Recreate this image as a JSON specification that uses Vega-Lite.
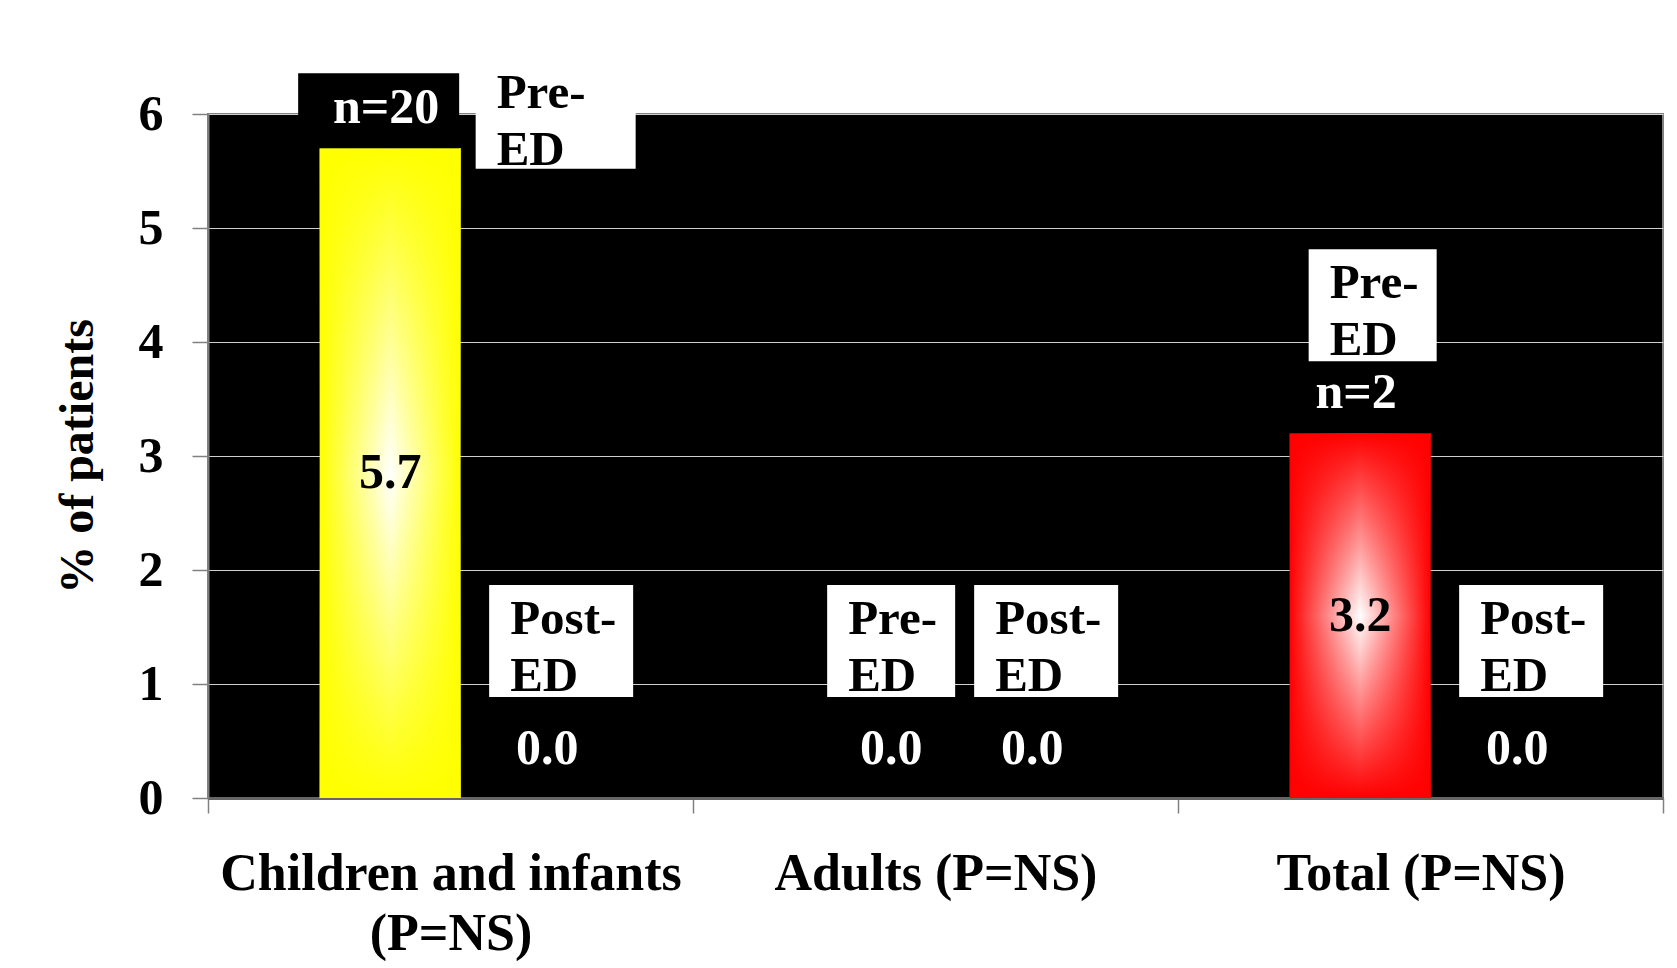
{
  "$schema": "https://vega.github.io/schema/vega-lite/v6.json",
  "width": 1455,
  "height": 684,
  "autosize": {"type": "none"},
  "padding": {"left": 208, "top": 114, "right": 14, "bottom": 170},
  "background": "white",
  "config": {
    "font": "Liberation Serif",
    "view": {"fill": "black", "stroke": "#808080", "strokeWidth": 2}
  },
  "datasets": {
    "bars": [
      {"group": "Children and infants (P=NS)", "series": "Pre-ED", "value": 5.7, "sample": "n=20"},
      {"group": "Children and infants (P=NS)", "series": "Post-ED", "value": 0.0},
      {"group": "Adults (P=NS)", "series": "Pre-ED", "value": 0.0},
      {"group": "Adults (P=NS)", "series": "Post-ED", "value": 0.0},
      {"group": "Total (P=NS)", "series": "Pre-ED", "value": 3.2, "sample": "n=2"},
      {"group": "Total (P=NS)", "series": "Post-ED", "value": 0.0}
    ],
    "seriesNames": [
      {"series": "Pre-ED", "lines": ["Pre-", "ED"]},
      {"series": "Post-ED", "lines": ["Post-", "ED"]}
    ]
  },
  "data": {"name": "bars"},
  "encoding": {
    "x": {
      "field": "group",
      "type": "nominal",
      "sort": ["Children and infants (P=NS)", "Adults (P=NS)", "Total (P=NS)"],
      "scale": {"paddingInner": 0, "paddingOuter": 0},
      "axis": {
        "title": null,
        "labelAngle": 0,
        "labelFont": "Liberation Serif",
        "labelFontSize": 52,
        "labelFontWeight": "bold",
        "labelColor": "black",
        "labelPadding": 35,
        "labelBaseline": "top",
        "labelLineHeight": 60,
        "labelLimit": 0,
        "labelOverlap": false,
        "labelExpr": "datum.label == 'Children and infants (P=NS)' ? ['Children and infants', '(P=NS)'] : datum.label",
        "tickBand": "extent",
        "tickSize": 15,
        "tickColor": "#808080",
        "tickWidth": 1.5,
        "domainColor": "#666666",
        "domainWidth": 3,
        "grid": false
      }
    },
    "xOffset": {
      "field": "series",
      "type": "nominal",
      "sort": ["Pre-ED", "Post-ED"],
      "scale": {"paddingInner": 0, "paddingOuter": 0.72, "align": 0.55}
    }
  },
  "layer": [
    {
      "encoding": {
        "y": {
          "field": "value",
          "type": "quantitative",
          "scale": {"domain": [0, 6], "nice": false, "zero": true},
          "axis": {
            "title": "% of patients",
            "titleFont": "Liberation Serif",
            "titleFontSize": 48,
            "titleFontWeight": "bold",
            "titleColor": "black",
            "titleX": -130,
            "titleY": 342,
            "titleAngle": -90,
            "titleBaseline": "middle",
            "titleAlign": "center",
            "values": [0, 1, 2, 3, 4, 5, 6],
            "format": "d",
            "labelFont": "Liberation Serif",
            "labelFontSize": 50,
            "labelFontWeight": "bold",
            "labelColor": "black",
            "labelPadding": 29,
            "tickSize": 16,
            "tickColor": "#808080",
            "tickWidth": 1.5,
            "domainColor": "#808080",
            "domainWidth": 2,
            "grid": true,
            "gridColor": "#d0d0d0",
            "gridWidth": 1
          }
        }
      },
      "layer": [
        {
          "transform": [{"filter": "datum.group == 'Children and infants (P=NS)' && datum.value > 0"}],
          "mark": {
            "type": "bar",
            "stroke": null,
            "fill": {"gradient": "linear", "x1": 0, "y1": 0, "x2": 1, "y2": 0,
              "stops": [{"offset": 0, "color": "#ffff00"}, {"offset": 0.5, "color": "#ffffff"}, {"offset": 1, "color": "#ffff00"}]}
          }
        },
        {
          "transform": [{"filter": "datum.group == 'Children and infants (P=NS)' && datum.value > 0"}],
          "mark": {
            "type": "bar",
            "stroke": null,
            "fill": {"gradient": "linear", "x1": 0, "y1": 0, "x2": 0, "y2": 1,
              "stops": [{"offset": 0, "color": "rgba(255,255,0,1)"}, {"offset": 0.5, "color": "rgba(255,255,0,0)"}, {"offset": 1, "color": "rgba(255,255,0,1)"}]}
          }
        },
        {
          "transform": [{"filter": "datum.group == 'Total (P=NS)' && datum.value > 0"}],
          "mark": {
            "type": "bar",
            "stroke": null,
            "fill": {"gradient": "linear", "x1": 0, "y1": 0, "x2": 1, "y2": 0,
              "stops": [{"offset": 0, "color": "#ff0000"}, {"offset": 0.5, "color": "#ffffff"}, {"offset": 1, "color": "#ff0000"}]}
          }
        },
        {
          "transform": [{"filter": "datum.group == 'Total (P=NS)' && datum.value > 0"}],
          "mark": {
            "type": "bar",
            "stroke": null,
            "fill": {"gradient": "linear", "x1": 0, "y1": 0, "x2": 0, "y2": 1,
              "stops": [{"offset": 0, "color": "rgba(255,0,0,1)"}, {"offset": 0.5, "color": "rgba(255,0,0,0)"}, {"offset": 1, "color": "rgba(255,0,0,1)"}]}
          }
        },
        {
          "transform": [{"filter": "isValid(datum.sample)"}],
          "mark": {"type": "point", "shape": "M-0.92,-0.375H0.69V0.375H-0.92Z", "size": 40000, "filled": true, "color": "black", "opacity": 1, "strokeWidth": 0, "yOffset": -37.5}
        },
        {
          "transform": [{"filter": "isValid(datum.sample)"}],
          "mark": {"type": "text", "color": "white", "fontSize": 50, "fontWeight": "bold", "baseline": "middle", "align": "center", "dx": -4, "dy": -40},
          "encoding": {"text": {"field": "sample", "type": "nominal"}}
        },
        {
          "transform": [
            {"filter": "datum.value == 0 && datum.series == 'Pre-ED'"},
            {"lookup": "series", "from": {"data": {"name": "seriesNames"}, "key": "series", "fields": ["lines"]}}
          ],
          "layer": [
            {"mark": {"type": "point", "shape": "M-0.48,-0.56H0.80V0.56H-0.48Z", "size": 40000, "filled": true, "color": "white", "opacity": 1, "strokeWidth": 0, "yOffset": -157}},
            {"mark": {"type": "text", "color": "black", "fontSize": 49, "fontWeight": "bold", "align": "left", "baseline": "alphabetic", "lineHeight": 57, "dx": -27, "dy": -164},
             "encoding": {"text": {"field": "lines", "type": "nominal"}}}
          ]
        },
        {
          "transform": [
            {"filter": "datum.value == 0 && datum.series == 'Post-ED'"},
            {"lookup": "series", "from": {"data": {"name": "seriesNames"}, "key": "series", "fields": ["lines"]}}
          ],
          "layer": [
            {"mark": {"type": "point", "shape": "M-0.42,-0.56H1.02V0.56H-0.42Z", "size": 40000, "filled": true, "color": "white", "opacity": 1, "strokeWidth": 0, "yOffset": -157}},
            {"mark": {"type": "text", "color": "black", "fontSize": 49, "fontWeight": "bold", "align": "left", "baseline": "alphabetic", "lineHeight": 57, "dx": -21, "dy": -164},
             "encoding": {"text": {"field": "lines", "type": "nominal"}}}
          ]
        },
        {
          "transform": [
            {"filter": "datum.value > 0 && datum.value < 5"},
            {"lookup": "series", "from": {"data": {"name": "seriesNames"}, "key": "series", "fields": ["lines"]}}
          ],
          "layer": [
            {"mark": {"type": "point", "shape": "M-0.515,-0.56H0.765V0.56H-0.515Z", "size": 40000, "filled": true, "color": "white", "opacity": 1, "strokeWidth": 0, "yOffset": -128}},
            {"mark": {"type": "text", "color": "black", "fontSize": 49, "fontWeight": "bold", "align": "left", "baseline": "alphabetic", "lineHeight": 57, "dx": -30.5, "dy": -135},
             "encoding": {"text": {"field": "lines", "type": "nominal"}}}
          ]
        },
        {
          "transform": [
            {"filter": "datum.value >= 5"},
            {"lookup": "series", "from": {"data": {"name": "seriesNames"}, "key": "series", "fields": ["lines"]}}
          ],
          "layer": [
            {"mark": {"type": "point", "shape": "M0.855,-0.485H2.455V0.485H0.855Z", "size": 40000, "filled": true, "color": "white", "opacity": 1, "strokeWidth": 0, "yOffset": -28}},
            {"mark": {"type": "text", "color": "black", "fontSize": 49, "fontWeight": "bold", "align": "left", "baseline": "alphabetic", "lineHeight": 57, "dx": 106.5, "dy": -40},
             "encoding": {"text": {"field": "lines", "type": "nominal"}}}
          ]
        },
        {
          "transform": [{"filter": "datum.value == 0"}],
          "mark": {"type": "text", "color": "white", "fontSize": 50, "fontWeight": "bold", "baseline": "middle", "align": "center", "dx": 16, "dy": -49},
          "encoding": {"text": {"field": "value", "type": "quantitative", "format": ".1f"}}
        }
      ]
    },
    {
      "transform": [{"filter": "datum.value > 0"}],
      "mark": {"type": "text", "color": "black", "fontSize": 50, "fontWeight": "bold", "baseline": "middle", "align": "center"},
      "encoding": {
        "y": {"field": "value", "type": "quantitative", "scale": {"domain": [0, 12], "nice": false}, "axis": null},
        "text": {"field": "value", "type": "quantitative", "format": ".1f"}
      }
    }
  ],
  "resolve": {"scale": {"y": "independent"}}
}
